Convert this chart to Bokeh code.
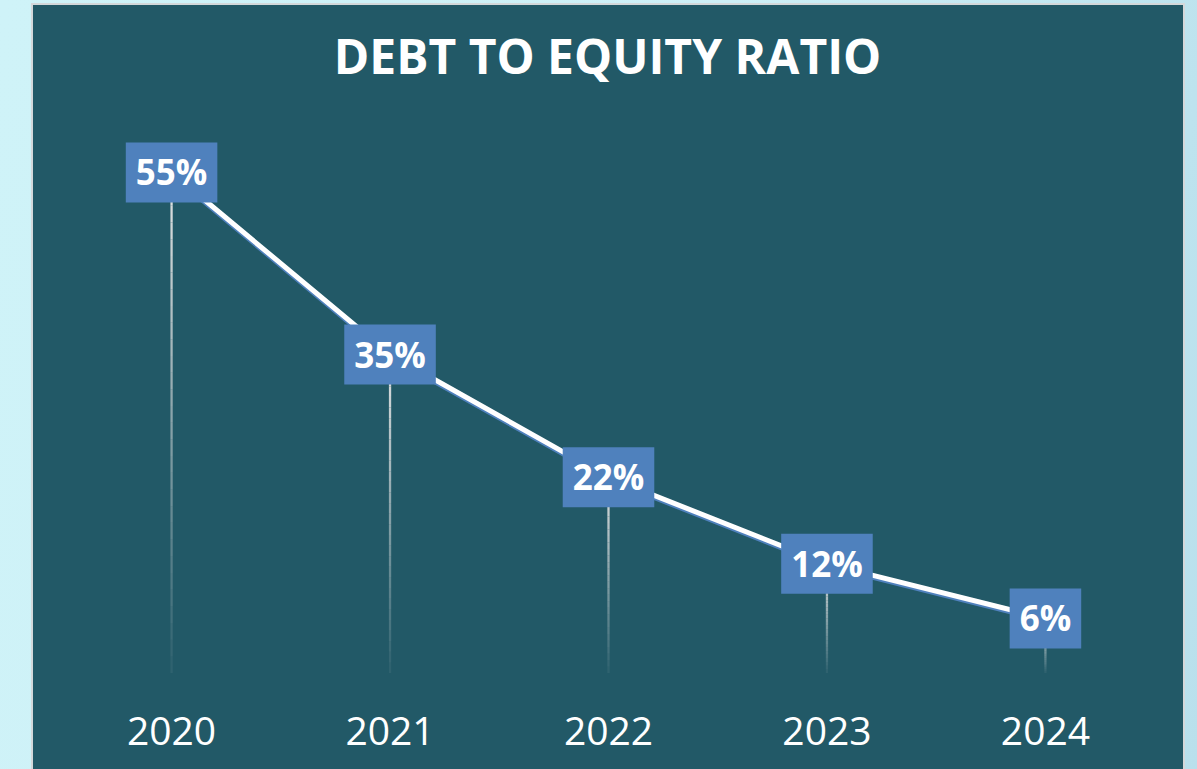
from bokeh.plotting import figure
from bokeh.models import Range1d, FixedTicker, Label, Spacer
from bokeh.layouts import row, column
from bokeh.embed import file_html
from bokeh.resources import INLINE
from bokeh.core.properties import value

# ---- data ----
years = ["2020", "2021", "2022", "2023", "2024"]
ratio = [55, 35, 21.5, 12, 6]
ratio_labels = ["55%", "35%", "22%", "12%", "6%"]
title_text = "DEBT TO EQUITY RATIO"

PANEL = "#225967"
BOX = "#4f81bd"
EDGE = "#d4d8da"
FONT = "Open Sans"

xs = list(range(len(years)))
Y0, Y1 = -3.24, 73.35
SH = 0.22  # shadow offset in data units (~2px)

p = figure(width=1150, height=764, output_backend="svg", toolbar_location=None,
           x_range=Range1d(-0.632, len(years) - 1 + 0.632),
           y_range=Range1d(Y0, Y1),
           y_axis_location=None, x_axis_location="below",
           min_border_left=0, min_border_right=0, min_border_top=0, min_border_bottom=67,
           styles={"background-color": PANEL})
p.background_fill_color = None
p.border_fill_color = None
p.outline_line_color = None
p.grid.visible = False

p.extra_y_ranges = {"shadow": Range1d(Y0 + SH, Y1 + SH)}

# drop lines, fading from light grey to transparent
N = 30
x0s, y0s, y1s, alphas = [], [], [], []
for xi, v in zip(xs, ratio):
    for k in range(N):
        x0s.append(xi)
        y0s.append(v * (1 - k / N))
        y1s.append(v * (1 - (k + 1) / N))
        alphas.append(0.95 * (1 - k / N) + 0.04)
p.segment(x0=x0s, y0=y0s, x1=x0s, y1=y1s, line_color="#e4e4e4", line_width=2.3,
          line_alpha=alphas, line_cap="butt")

# line with blue shadow
p.line(xs, ratio, line_color=BOX, line_width=5, y_range_name="shadow")
p.line(xs, ratio, line_color="white", line_width=5)

# data labels in boxes
p.text(x=xs, y=ratio, text=ratio_labels, text_color="white",
       text_font=value(FONT), text_font_style="bold", text_font_size="35px",
       text_align="center", text_baseline="middle",
       background_fill_color=BOX,
       padding=dict(left=10, right=10, top=6, bottom=7))

# x axis
ax = p.xaxis[0]
ax.ticker = FixedTicker(ticks=xs)
ax.major_label_overrides = {i: y for i, y in enumerate(years)}
ax.axis_line_color = None
ax.major_tick_line_color = None
ax.minor_tick_line_color = None
ax.major_label_text_color = "white"
ax.major_label_text_font = FONT
ax.major_label_text_font_size = "39px"
ax.major_label_standoff = 8

# title
title = Label(x=574, y=647, x_units="screen", y_units="screen",
              text=title_text, text_align="center", text_baseline="middle",
              text_color="white", text_font=FONT, text_font_style="bold",
              text_font_size="48px")
p.add_layout(title)

layout = column(
    Spacer(width=1197, height=3),
    row(Spacer(width=31, height=766),
        Spacer(width=2, height=766, styles={"background-color": EDGE}),
        column(Spacer(width=1150, height=2, styles={"background-color": EDGE}), p),
        Spacer(width=2, height=766, styles={"background-color": EDGE})))

html = file_html(layout, INLINE)
html = html.replace("<head>", "<head><style>html,body{margin:0;padding:0;overflow:hidden;}body{background:linear-gradient(100deg,#cff3f8 0%,#cdeff6 55%,#b9e0ec 100%);}</style>", 1)
open("out.html", "w").write(html)
